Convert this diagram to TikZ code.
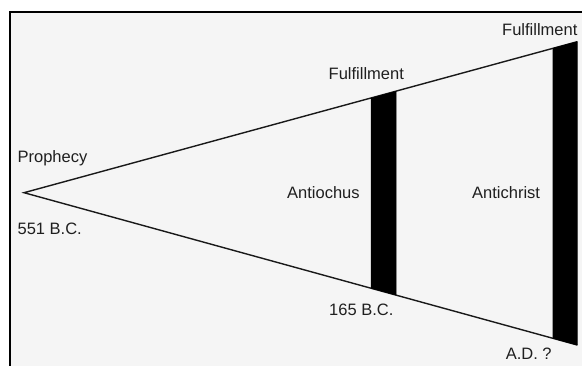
\documentclass[tikz,border=0pt]{standalone}
\usepackage{fontspec}
\setmainfont{Liberation Sans}
\begin{document}
\begin{tikzpicture}[x=1pt,y=-1pt,
  lbl/.style={anchor=base west,inner sep=0pt,text=black!88,font=\fontsize{16.5}{18}\selectfont},
  edge/.style={line width=1.4pt,black!90},
  bar/.style={fill=black,draw=black,line width=0.6pt}]
\useasboundingbox (0,0) rectangle (582,366);
\fill[white] (0,0) rectangle (582,366);
\fill[black!4] (10,12) rectangle (582,366);
\draw[line width=1.8pt] (10,366) -- (10,12) -- (582,12);
\coordinate (apex) at (24,192.7);
\coordinate (tr) at (577.2,41.7);
\coordinate (br) at (577.2,345);
\draw[edge] (tr) -- (apex) -- (br);
\coordinate (a1) at (371.2,98.2);
\coordinate (a2) at (396,91.4);
\coordinate (a3) at (396,295);
\coordinate (a4) at (371.2,288.2);
\fill[bar] (a1) -- (a2) -- (a3) -- (a4) -- cycle;
\coordinate (b1) at (553,48.3);
\coordinate (b2) at (577.2,41.7);
\coordinate (b3) at (577.2,345);
\coordinate (b4) at (553,338.3);
\fill[bar] (b1) -- (b2) -- (b3) -- (b4) -- cycle;
\node[lbl] (f2) at (502,36) {Fulfillment};
\node[lbl] (f1) at (328.5,79.8) {Fulfillment};
\node[lbl] (pr) at (17.4,162.3) {Prophecy};
\node[lbl] (d1) at (17.4,235) {551 B.C.};
\node[lbl] (an) at (287,199) {Antiochus};
\node[lbl] (ac) at (472,199) {Antichrist};
\node[lbl] (d2) at (329,315.3) {165 B.C.};
\node[lbl] (d3) at (505.6,360) {A.D. ?};
\end{tikzpicture}
\end{document}
